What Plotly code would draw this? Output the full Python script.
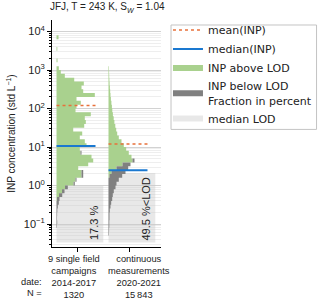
import numpy as np
import plotly.graph_objects as go

# ---------------- data ----------------
cat_lines = [["9 single field", "campaigns", "2014-2017", "1320"],
             ["continuous", "measurements", "2020-2021", "15\u2009843"]]
cat_pos = [1, 2]

bin_width = 0.1  # decades per histogram bin

# campaigns 2014-2017: lower bin edges (log10) and relative frequency
camp_bin_lo = [round(v, 1) for v in np.arange(-1.1, 3.85, 0.1)]
camp_above = [0, 0, 0, 0, 0, 0, 0, 0.5, 2.5, 5.5, 8.5,
              17, 19, 25, 25, 21.7, 31.7, 36.7, 35, 24, 23.3,
              30, 28.3, 23.3, 25.7, 16.7, 27.7, 29.3, 28.3, 34.3, 19,
              20, 24.3, 20, 38.3, 26.7, 25, 27.3, 17.7, 8.3, 4.3,
              2.3, 0, 1.0, 0, 0, 0.8, 0, 0, 2.0]
camp_below = [0.5, 0.7, 0.5, 0.6, 0.8, 1.3, 2.3, 2.5, 3.2, 2.5, 2.8,
              1.3, 1.0, 1.7, 1.7, 0, 0, 0, 0, 1.0, 0,
              0, 0, 0, 0, 0, 0, 0, 0, 0, 0,
              0, 0, 0, 0, 0, 0, 0, 0, 0, 0,
              0, 0, 0, 0, 0, 0, 0, 0, 0]

# continuous 2020-2021
cont_bin_lo = [round(v, 1) for v in np.arange(-1.3, 3.05, 0.1)]
cont_above = [0, 0, 0, 0, 0, 0, 0, 0, 0, 0, 0, 0, 0,
              0, 0, 1, 3, 8, 14, 24,
              23, 20.3, 17.7, 15.3, 13, 10.3, 8.7, 7.7, 6.8, 5.9,
              5.2, 4.4, 3.8, 3.4, 2.9, 2.4, 2.0, 1.7, 1.4, 1.1,
              0.9, 0.7, 0.6, 0.5]
cont_below = [0.5, 0.6, 0.8, 0.8, 1.0, 1.0, 1.3, 2.0, 2.7, 3.7, 4.3, 5.3, 7,
              8, 10.3, 12.7, 14, 11.7, 8, 2,
              0, 0, 0, 0, 0, 0, 0, 0, 0, 0,
              0, 0, 0, 0, 0, 0, 0, 0, 0, 0,
              0, 0, 0, 0]

mean_inp = [120, 12]
median_inp = [10.6, 2.5]
median_lod = [1.0, 2.1]
frac_below = ["17.3 %", "49.5 %&lt;LOD"]

# ---------------- styles ----------------
GREEN = "#a9d18e"
DGREY = "#808080"
LOD_FILL = "rgba(200,200,200,0.42)"
MEAN_C = "#e8703a"
MED_C = "#1a78d0"
TXT = "#222"
base_off = 0.4
len_scale = 1 / 52.0
line_w = 0.75
box_w = 0.9
box_bottom = 10 ** -1.48
label_shift = [-0.06, 0.19]

fig = go.Figure()

def step_poly(base, lo, left, right):
    xs, ys = [], []
    for l, r in zip(lo, right):
        xs += [base + r * len_scale] * 2
        ys += [10 ** l, 10 ** (l + bin_width)]
    for l, lf in zip(lo[::-1], left[::-1]):
        xs += [base + lf * len_scale] * 2
        ys += [10 ** (l + bin_width), 10 ** l]
    return xs, ys

hists = [(camp_bin_lo, camp_above, camp_below), (cont_bin_lo, cont_above, cont_below)]

# LOD boxes
for i, p in enumerate(cat_pos):
    b = p - base_off
    fig.add_trace(go.Scatter(
        x=[b, b + box_w, b + box_w, b, b],
        y=[box_bottom, box_bottom, median_lod[i], median_lod[i], box_bottom],
        fill="toself", fillcolor=LOD_FILL, mode="none",
        name="median LOD", showlegend=(i == 0), legendrank=5,
        hoverinfo="skip"))

for i, p in enumerate(cat_pos):
    b = p - base_off
    lo, ab, be = hists[i]
    zeros = [0] * len(lo)
    xs, ys = step_poly(b, lo, zeros, ab)
    fig.add_trace(go.Scatter(x=xs, y=ys, fill="toself", fillcolor=GREEN, mode="none",
                             name="INP above LOD",
                             showlegend=(i == 0), legendrank=3, hoverinfo="skip"))
    tot = [a + c for a, c in zip(ab, be)]
    xs, ys = step_poly(b, lo, ab, tot)
    fig.add_trace(go.Scatter(x=xs, y=ys, fill="toself", fillcolor=DGREY, mode="none",
                             name="INP below LOD<br>Fraction in percent",
                             showlegend=(i == 0), legendrank=4, hoverinfo="skip"))

for i, p in enumerate(cat_pos):
    b = p - base_off
    fig.add_trace(go.Scatter(x=[b, b + line_w], y=[mean_inp[i]] * 2, mode="lines",
                             line=dict(color=MEAN_C, width=1.6, dash="dot"),
                             name="mean(INP)",
                             showlegend=(i == 0), legendrank=1))
    fig.add_trace(go.Scatter(x=[b, b + line_w], y=[median_inp[i]] * 2, mode="lines",
                             line=dict(color=MED_C, width=2),
                             name="median(INP)",
                             showlegend=(i == 0), legendrank=2))

annotations = []
for i, p in enumerate(cat_pos):
    annotations.append(dict(x=p + 0.32, y=-1.47, xref="x", yref="y", text=frac_below[i],
                            textangle=-90, showarrow=False, xanchor="center", yanchor="bottom",
                            font=dict(family="Liberation Sans", size=11, color=TXT)))
    annotations.append(dict(x=p + label_shift[i], y=-0.022, xref="x", yref="paper",
                            text="<br>".join(cat_lines[i]), align="center",
                            showarrow=False, xanchor="center", yanchor="top",
                            font=dict(family="Liberation Sans", size=9.3, color=TXT)))
annotations.append(dict(x=-0.07, y=-0.152, xref="paper", yref="paper", text="date:",
                        showarrow=False, xanchor="right", yanchor="middle",
                        font=dict(family="Liberation Sans", size=9.3, color=TXT)))
annotations.append(dict(x=-0.07, y=-0.203, xref="paper", yref="paper", text="N =",
                        showarrow=False, xanchor="right", yanchor="middle",
                        font=dict(family="Liberation Sans", size=9.3, color=TXT)))

minor_vals = [m * 10 ** k for k in range(-2, 5) for m in range(2, 10)]

fig.update_layout(
    width=320, height=300,
    margin=dict(l=52, r=159, t=20, b=53, autoexpand=False),
    paper_bgcolor="white", plot_bgcolor="white",
    title=dict(text="JFJ, T = 243 K, S<sub><i>W</i></sub> = 1.04", x=0.335, xanchor="center",
               y=0.977, yanchor="middle",
               font=dict(family="Liberation Sans", size=10, color=TXT)),
    showlegend=True,
    legend=dict(x=1.064, y=1.020, xanchor="left", yanchor="top",
                borderwidth=0, bgcolor="rgba(0,0,0,0)",
                font=dict(family="DejaVu Sans", size=11, color=TXT),
                itemwidth=30, traceorder="normal"),
    shapes=[dict(type="rect", xref="paper", yref="paper",
                 x0=1.092, x1=2.427, y0=0.518, y1=0.978,
                 line=dict(color="#c4c4c4", width=1), layer="above")],
    annotations=annotations,
    xaxis=dict(range=[0.513, 2.61], tickvals=cat_pos, ticktext=["", ""],
               showgrid=False, zeroline=False, showline=True, linecolor="black", linewidth=1,
               ticks="outside", ticklen=4, tickcolor="black"),
    yaxis=dict(type="log", range=[-1.597, 4.299],
               tickvals=[0.1, 1, 10, 100, 1000, 10000],
               ticktext=["10<sup>\u22121</sup>", "10<sup>0</sup>", "10<sup>1</sup>",
                         "10<sup>2</sup>", "10<sup>3</sup>", "10<sup>4</sup>"],
               showgrid=True, gridcolor="#d2d2d2", gridwidth=1,
               minor=dict(tickvals=minor_vals, showgrid=True, gridcolor="#eeeeee",
                          ticks="outside", ticklen=2, tickcolor="black"),
               zeroline=False, showline=True, linecolor="black", linewidth=1,
               ticks="outside", ticklen=4, tickcolor="black",
               tickfont=dict(family="Liberation Sans", size=11, color=TXT),
               title=dict(text="INP concentration (std L<sup>\u22121</sup>)", standoff=6,
                          font=dict(family="Liberation Sans", size=10, color=TXT))),
)

fig.write_html("out.html", config={"displayModeBar": False},
               post_script="document.body.style.margin='0';")
